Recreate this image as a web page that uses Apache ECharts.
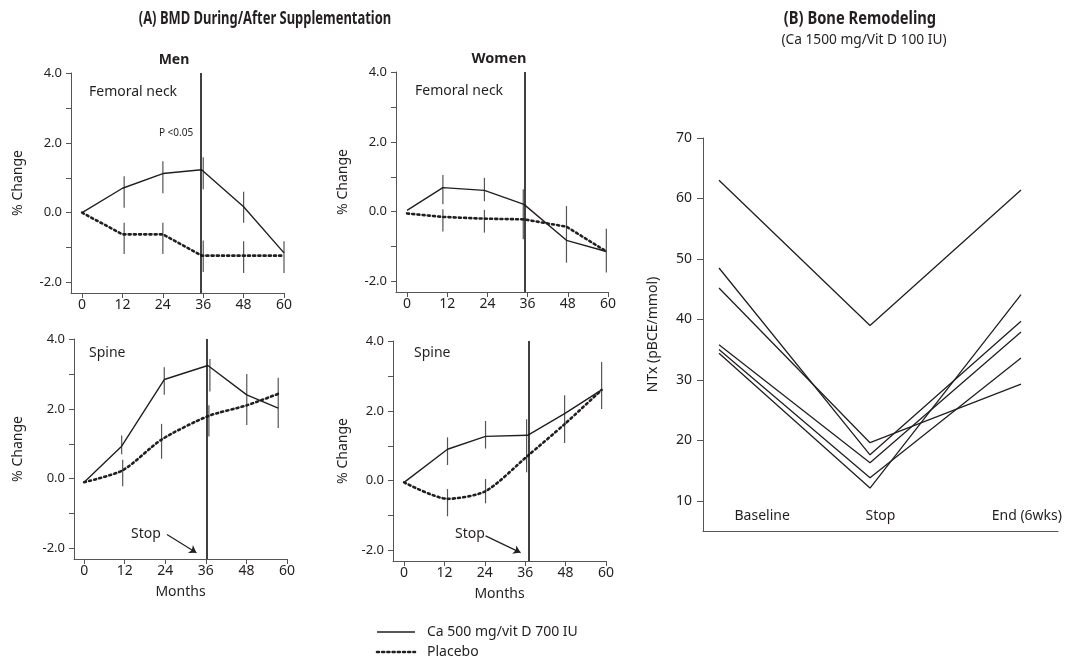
<!DOCTYPE html>
<html>
<head>
<meta charset="utf-8">
<script src="https://cdn.jsdelivr.net/npm/echarts@6/dist/echarts.min.js"></script>
<style>
  html, body { margin: 0; padding: 0; background: #fff; }
  #main { width: 1065px; height: 658px; }
</style>
</head>
<body>
<div id="main"></div>
<script>
// tick labels
var monthLabels = [0, 12, 24, 36, 48, 60];
var pctTicks = [-2, -1, 0, 1, 2, 3, 4];
var pctLabels = [-2, 0, 2, 4];
var ntxTicks = [10, 20, 30, 40, 50, 60, 70];
var visitNames = ['Baseline', 'Stop', 'End (6wks)'];
var visitPos = [0, 1, 2];

// Men - femoral neck
var menFnMonths = [0, 12, 24, 35.5, 48, 60];
var menFnCa = [0.0, 0.70, 1.12, 1.23, 0.17, -1.15];
var menFnPlacebo = [0.0, -0.62, -0.62, -1.23, -1.23, -1.23];
var menFnErr = [[12.5, 0.14, 1.04], [24, 0.56, 1.47], [36, 0.67, 1.59], [48, -0.29, 0.60], [60, -1.73, -0.82],
                [12.5, -1.18, -0.29], [24, -1.18, -0.29], [36, -1.70, -0.80], [48, -1.73, -0.82]];
var menFnStop = 35.4;

// Women - femoral neck
var womenFnMonths = [0, 10.7, 23.1, 34.9, 47.6, 59.5];
var womenFnCa = [0.04, 0.69, 0.61, 0.21, -0.82, -1.14];
var womenFnPlacebo = [-0.05, -0.15, -0.20, -0.22, -0.43, -1.14];
var womenFnErr = [[10.7, 0.21, 1.05], [23.1, 0.30, 0.97], [34.7, -0.79, 0.64], [47.6, -1.46, 0.16], [59.5, -1.74, -0.49],
                  [10.7, -0.57, 0.07], [23.1, -0.60, 0.05]];
var womenFnStop = 35.2;

// Men - spine
var menSpMonths = [0, 11.1, 23.7, 36.6, 48.1, 57.4];
var menSpPlMonths = [0, 11.4, 22.9, 36.6, 48.1, 57.4];
var menSpCa = [-0.10, 0.93, 2.84, 3.24, 2.40, 2.02];
var menSpPlacebo = [-0.10, 0.24, 1.12, 1.79, 2.10, 2.43];
var menSpErr = [[11.1, 0.70, 1.24], [23.7, 2.40, 3.19], [37.2, 2.50, 3.43], [48.1, 1.54, 3.00], [57.4, 1.45, 2.89],
                [11.4, -0.22, 0.54], [22.9, 0.57, 1.57], [36.9, 1.21, 2.10]];
var menSpStop = 36.4;

// Women - spine
var womenSpMonths = [0, 12.9, 24.2, 36.7, 47.7, 58.7];
var womenSpCa = [-0.05, 0.90, 1.27, 1.30, 1.92, 2.60];
var womenSpPlacebo = [-0.05, -0.52, -0.30, 0.71, 1.62, 2.60];
var womenSpErr = [[12.9, 0.45, 1.24], [24.2, 0.92, 1.71], [36.4, 0.24, 1.76], [47.7, 1.08, 2.45], [58.7, 2.05, 3.40],
                  [12.9, -1.02, -0.24], [24.2, -0.65, 0.05]];
var womenSpStop = 37.0;

// Bone remodeling, NTx per subject (baseline, stop, end)
var ntxA = [63.0, 39.0, 61.4];
var ntxB = [48.5, 17.6, 39.7];
var ntxC = [45.2, 19.6, 29.3];
var ntxD = [35.8, 16.3, 37.9];
var ntxE = [35.0, 13.8, 33.6];
var ntxF = [34.4, 12.1, 44.1];

var ink = '#231f20';
var axisGrey = '#555';
var FONT = '"Noto Sans", sans-serif';

function pairs(xs, ys) {
  return xs.map(function (x, i) { return [x, ys[i]]; });
}

var panels = [
  { months: menFnMonths, plMonths: menFnMonths, ca: menFnCa, pl: menFnPlacebo, err: menFnErr, stop: menFnStop,
    grid: { left: 71, top: 73, width: 213, height: 220 }, xmin: -3.3, gap: 46, months_name: false, smooth: false },
  { months: womenFnMonths, plMonths: womenFnMonths, ca: womenFnCa, pl: womenFnPlacebo, err: womenFnErr, stop: womenFnStop,
    grid: { left: 396, top: 72, width: 212, height: 220 }, xmin: -3.3, gap: 46, months_name: false, smooth: false },
  { months: menSpMonths, plMonths: menSpPlMonths, ca: menSpCa, pl: menSpPlacebo, err: menSpErr, stop: menSpStop,
    grid: { left: 74, top: 339, width: 213, height: 220 }, xmin: -3.0, gap: 49, months_name: true, smooth: 0.25,
    arrow: [[24.5, -1.6], [33.2, -2.12]] },
  { months: womenSpMonths, plMonths: womenSpMonths, ca: womenSpCa, pl: womenSpPlacebo, err: womenSpErr, stop: womenSpStop,
    grid: { left: 393, top: 341, width: 213, height: 220 }, xmin: -3.3, gap: 43, months_name: true, smooth: 0.25,
    arrow: [[24.2, -1.58], [34.6, -2.06]] }
];

var grids = [], xAxes = [], yAxes = [], series = [];

function errRender(params, api) {
  var p1 = api.coord([api.value(0), api.value(1)]);
  var p2 = api.coord([api.value(0), api.value(2)]);
  return {
    type: 'line',
    shape: { x1: p1[0], y1: p1[1], x2: p2[0], y2: p2[1] },
    style: { stroke: '#555', lineWidth: 1.2 }
  };
}

panels.forEach(function (p, i) {
  grids.push(p.grid);
  xAxes.push({
    gridIndex: i, type: 'value', min: p.xmin, max: 60,
    axisLine: { show: true, onZero: false, lineStyle: { color: axisGrey, width: 1 } },
    axisTick: { show: true, customValues: monthLabels, length: 5, lineStyle: { color: axisGrey } },
    axisLabel: { customValues: monthLabels, fontSize: 14, fontFamily: FONT, color: ink, margin: 5 },
    splitLine: { show: false },
    name: p.months_name ? 'Months' : '', nameLocation: 'middle', nameGap: 26,
    nameTextStyle: { fontSize: 14, fontFamily: FONT, color: ink }
  });
  yAxes.push({
    gridIndex: i, type: 'value', min: -2.3, max: 4,
    axisLine: { show: true, onZero: false, lineStyle: { color: axisGrey, width: 1 } },
    axisTick: { show: true, customValues: pctTicks, length: 5, lineStyle: { color: axisGrey } },
    axisLabel: { customValues: pctLabels, fontSize: 13, fontFamily: FONT, color: ink, margin: 9,
                 formatter: function (v) { return v.toFixed(1); } },
    splitLine: { show: false },
    name: '% Change', nameLocation: 'middle', nameGap: p.gap,
    nameTextStyle: { fontSize: 14, fontFamily: FONT, color: ink }
  });
  series.push({
    type: 'custom', xAxisIndex: i, yAxisIndex: i, renderItem: errRender, data: p.err, z: 2, silent: true
  });
  series.push({
    name: 'Ca 500 mg/vit D 700 IU', type: 'line', xAxisIndex: i, yAxisIndex: i,
    data: pairs(p.months, p.ca), showSymbol: false, symbol: 'none',
    lineStyle: { color: ink, width: 1.4 }, z: 3,
    markLine: {
      silent: true, symbol: 'none', label: { show: false },
      lineStyle: { color: '#111', width: 1.6, type: 'solid' },
      data: [{ xAxis: p.stop }]
    }
  });
  var pl = {
    name: 'Placebo', type: 'line', xAxisIndex: i, yAxisIndex: i,
    data: pairs(p.plMonths, p.pl), showSymbol: false, symbol: 'none', smooth: p.smooth,
    lineStyle: { color: ink, width: 2.6, type: [2, 3.2], cap: 'round' }, z: 3
  };
  if (p.arrow) {
    pl.markLine = {
      silent: true, label: { show: false }, symbolSize: 7,
      lineStyle: { color: ink, width: 1.2, type: 'solid' },
      data: [[{ coord: p.arrow[0], symbol: 'none' }, { coord: p.arrow[1], symbol: 'arrow' }]]
    };
  }
  series.push(pl);
});

// Bone remodeling panel
grids.push({ left: 703, top: 138, width: 355, height: 393 });
xAxes.push({
  gridIndex: 4, type: 'value', min: -0.106, max: 2.245,
  axisLine: { show: true, onZero: false, lineStyle: { color: axisGrey, width: 1 } },
  axisTick: { show: false }, axisLabel: { show: false }, splitLine: { show: false }
});
xAxes.push({
  gridIndex: 4, type: 'category', data: visitNames, position: 'bottom', boundaryGap: true,
  axisLine: { show: false }, axisTick: { show: false }, splitLine: { show: false },
  axisLabel: {
    inside: true, interval: 0, margin: 8, fontSize: 14, fontFamily: FONT, color: ink,
    formatter: function (v, idx) { return idx === 2 ? '{end|' + v + '}' : v; },
    rich: { end: { fontSize: 14, fontFamily: FONT, color: ink, padding: [0, 0, 0, 56] } }
  }
});
yAxes.push({
  gridIndex: 4, type: 'value', min: 5, max: 70,
  axisLine: { show: true, onZero: false, lineStyle: { color: axisGrey, width: 1 } },
  axisTick: { show: true, customValues: ntxTicks, length: 6, lineStyle: { color: axisGrey } },
  axisLabel: { customValues: ntxTicks, fontSize: 14, fontFamily: FONT, color: ink, margin: 11 },
  splitLine: { show: false },
  name: 'NTx (pBCE/mmol)', nameLocation: 'middle', nameGap: 43,
  nameTextStyle: { fontSize: 14, fontFamily: FONT, color: ink }
});
[ntxA, ntxB, ntxC, ntxD, ntxE, ntxF].forEach(function (s) {
  series.push({
    type: 'line', xAxisIndex: 4, yAxisIndex: 4, data: pairs(visitPos, s),
    showSymbol: false, symbol: 'none', lineStyle: { color: ink, width: 1.3 }
  });
});

function txt(x, y, t, size, opts) {
  opts = opts || {};
  return {
    type: 'text', x: x, y: y, silent: true, scaleX: opts.scaleX || 1,
    style: {
      text: t, fontSize: size, fontFamily: FONT, fontWeight: opts.weight || 'normal',
      fill: ink, align: opts.align || 'center', verticalAlign: 'middle'
    }
  };
}

var graphics = [
  // condensed bold headings
  txt(265, 19, '(A) BMD During/After Supplementation', 17.5, { weight: 'bold', scaleX: 0.74 }),
  txt(860, 19, '(B) Bone Remodeling', 17.5, { weight: 'bold', scaleX: 0.84 }),
  txt(864, 40, '(Ca 1500 mg/Vit D 100 IU)', 14, { scaleX: 0.98 }),
  txt(174, 60, 'Men', 14, { weight: 'bold' }),
  txt(499, 59, 'Women', 14.5, { weight: 'bold' }),
  txt(89, 92, 'Femoral neck', 14, { align: 'left' }),
  txt(415, 91, 'Femoral neck', 14, { align: 'left' }),
  txt(89, 353, 'Spine', 14, { align: 'left' }),
  txt(414, 353, 'Spine', 14, { align: 'left' }),
  txt(176, 133, 'P <0.05', 10),
  txt(146, 534, 'Stop', 14),
  txt(470, 534, 'Stop', 14),
  { type: 'line', silent: true, shape: { x1: 377, y1: 632, x2: 415, y2: 632 },
    style: { stroke: ink, lineWidth: 1.5 } },
  { type: 'line', silent: true, shape: { x1: 377, y1: 652, x2: 415, y2: 652 },
    style: { stroke: ink, lineWidth: 2.6, lineDash: [2, 3.2], lineCap: 'round' } },
  txt(427, 632, 'Ca 500 mg/vit D 700 IU', 14, { align: 'left' }),
  txt(427, 652, 'Placebo', 14, { align: 'left' })
];

var chart = echarts.init(document.getElementById('main'), null, { renderer: 'canvas' });
chart.setOption({
  animation: false,
  backgroundColor: '#fff',
  grid: grids,
  xAxis: xAxes,
  yAxis: yAxes,
  series: series,
  graphic: graphics
});
</script>
</body>
</html>
